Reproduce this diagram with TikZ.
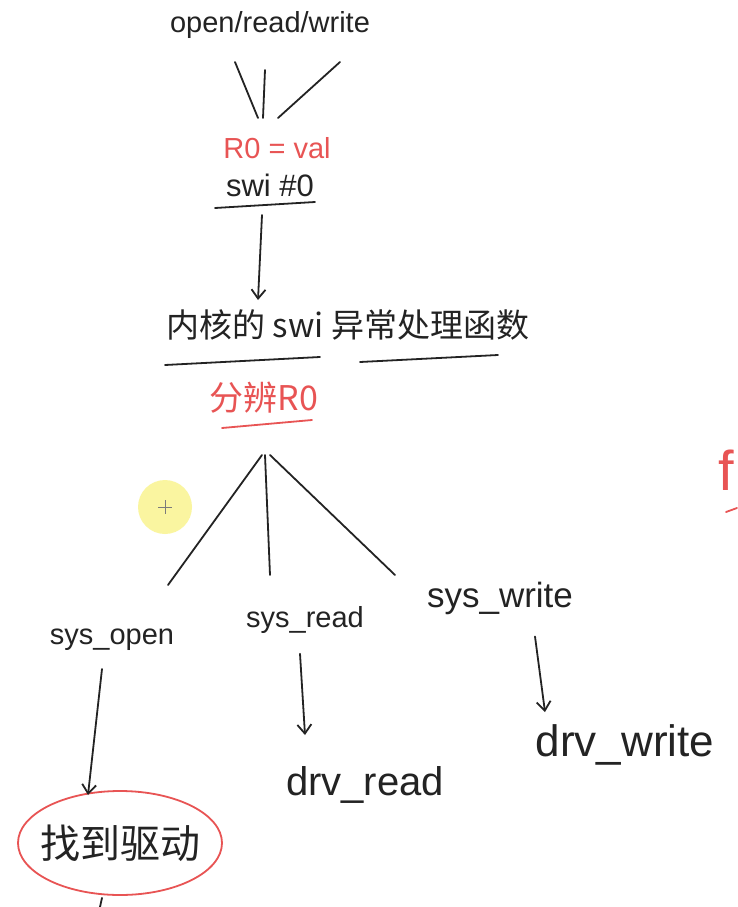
\documentclass[tikz,border=0pt]{standalone}
\usepackage{fontspec}
\setmainfont{Liberation Sans}
\newfontfamily\cjk{Noto Sans CJK SC}
\usetikzlibrary{arrows.meta,shapes.geometric}
\definecolor{ink}{RGB}{35,35,35}
\definecolor{redink}{RGB}{232,84,84}
\definecolor{cursor}{RGB}{250,245,150}
\tikzset{
  pen/.style={draw=ink,line width=1.8pt,line cap=round},
  redpen/.style={draw=redink,line width=1.8pt,line cap=round},
  arr/.style={pen,-{Straight Barb[length=9pt,width=14pt,line width=1.8pt]}},
  txt/.style={text=ink,inner sep=0pt},
  redtxt/.style={text=redink,inner sep=0pt},
}
\begin{document}
\begin{tikzpicture}[x=1pt,y=-1pt]
\useasboundingbox (0,0) rectangle (738,907);
\fill[white] (0,0) rectangle (738,907);
% cursor highlight
\fill[cursor,opacity=0.9] (165,507) circle (27);
\draw[ink!60,line width=0.6pt] (158,507) -- (172,507) (165,500) -- (165,514);

% top
\node[txt,font=\fontsize{29}{34}\selectfont] (orw) at (270,25) {open/read/write};
\coordinate (a1) at (235,62); \coordinate (a2) at (265,70); \coordinate (a3) at (340,62);
\coordinate (b1) at (258,118); \coordinate (b2) at (263,118); \coordinate (b3) at (278,118);
\draw[pen] (a1) -- (b1);
\draw[pen] (a2) -- (b2);
\draw[pen] (a3) -- (b3);
\node[redtxt,font=\fontsize{29}{34}\selectfont] (r0) at (277,148) {R0 = val};
\node[txt,font=\fontsize{31}{36}\selectfont] (swi) at (270,185) {swi \#0};
\coordinate (u1s) at (215,208); \coordinate (u1e) at (315,202);
\draw[pen] (u1s) -- (u1e);
\coordinate (c1) at (262,215); \coordinate (c2) at (258,300);
\draw[arr] (c1) -- (c2);

% kernel handler
\node[txt,font=\cjk\fontsize{33}{39}\selectfont] (kern) at (348,325) {内核的 swi 异常处理函数};
\coordinate (u2s) at (165,365); \coordinate (u2e) at (320,357);
\coordinate (u3s) at (360,362); \coordinate (u3e) at (498,355);
\draw[pen] (u2s) -- (u2e);
\draw[pen] (u3s) -- (u3e);
\node[redtxt,font=\cjk\fontsize{34}{40}\selectfont] (fb) at (264,398) {分辨R0};
\coordinate (u4s) at (222,428); \coordinate (u4e) at (312,420);
\draw[redpen] (u4s) -- (u4e);

% fan out
\coordinate (f0) at (262,455);
\coordinate (f1) at (168,585); \coordinate (f2) at (270,575); \coordinate (f3) at (395,575);
\draw[pen] (f0) -- (f1);
\draw[pen] ([xshift=3]f0) -- (f2);
\draw[pen] ([xshift=8]f0) -- (f3);

\node[txt,font=\fontsize{29}{34}\selectfont] (sopen) at (112,640) {sys\_open};
\node[txt,font=\fontsize{29}{34}\selectfont] (sread) at (305,620) {sys\_read};
\node[txt,font=\fontsize{35}{40}\selectfont] (swrite) at (500,598) {sys\_write};

\node[txt,font=\fontsize{40}{46}\selectfont] (dread) at (365,785) {drv\_read};
\node[txt,font=\fontsize{44}{50}\selectfont] (dwrite) at (625,745) {drv\_write};

\node[ellipse,draw=redink,line width=1.8pt,minimum width=204pt,minimum height=104pt,inner sep=-9pt,
      text=ink,font=\cjk\fontsize{40}{46}\selectfont] (find) at (120,843) {找到驱动};

\draw[arr] (sopen.south) ++(-10,18) coordinate (d1) -- (88,795) coordinate (d1e);
\draw[arr] (sread.south) ++(-5,20) coordinate (d2) -- (305,735) coordinate (d2e);
\draw[arr] (swrite.south) ++(35,22) coordinate (d3) -- (545,712) coordinate (d3e);

\draw[pen] (find.south) ++(-18,2) coordinate (g1) -- (100,907) coordinate (g2);

% red mark at right edge
\node[redtxt,font=\fontsize{56}{64}\selectfont] (fmark) at (726,470) {f};
\coordinate (m1) at (726,512); \coordinate (m2) at (737,508);
\draw[redpen] (m1) -- (m2);
\end{tikzpicture}
\end{document}
